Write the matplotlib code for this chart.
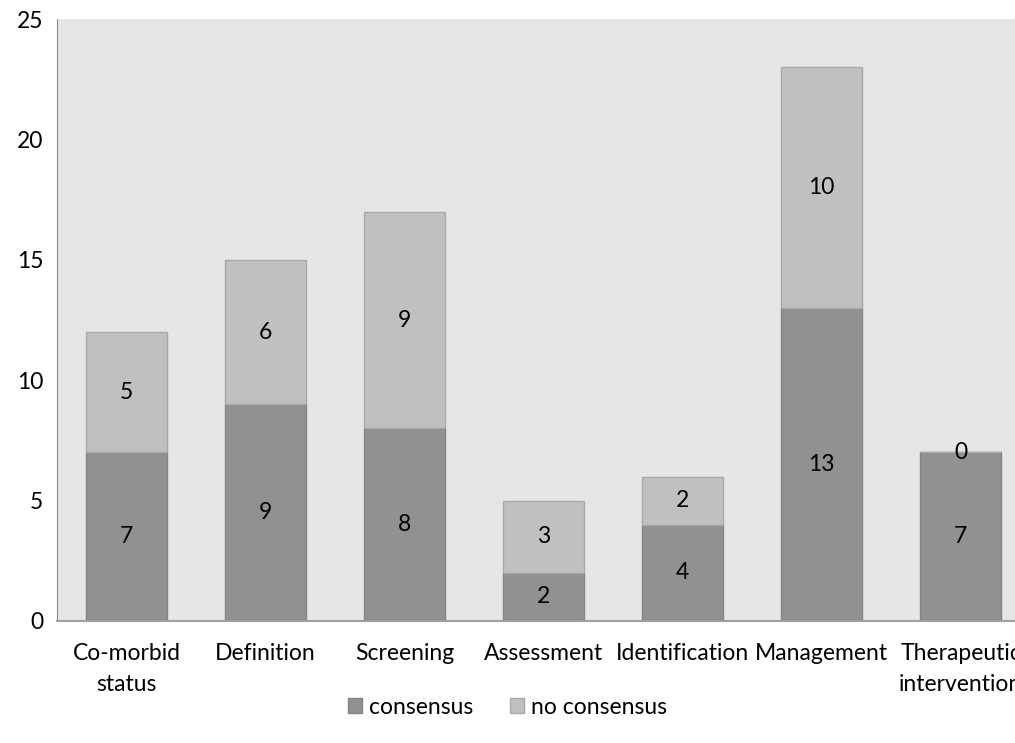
import numpy as np
import matplotlib.pyplot as plt

categories = ['Co-morbid\nstatus', 'Definition', 'Screening', 'Assessment',
              'Identification', 'Management', 'Therapeutic\nintervention']
consensus = [7, 9, 8, 2, 4, 13, 7]
no_consensus = [5, 6, 9, 3, 2, 10, 0]

plt.rcParams['font.family'] = ['Lato', 'DejaVu Sans']
fs = 16.5

fig = plt.figure(figsize=(10.15, 7.43), dpi=100)
ax = fig.add_axes([0.0562, 0.1642, 0.9586, 0.8102])
ax.set_facecolor('#e6e6e6')

x = np.arange(len(categories))
w = 0.58
ax.bar(x, consensus, w, color='#919191', edgecolor='#848484', linewidth=1, label='consensus')
ax.bar(x, no_consensus, w, bottom=consensus, color='#c0c0c0', edgecolor='#a8a8a8',
       linewidth=1, label='no consensus')

for i in range(len(x)):
    ax.text(x[i], consensus[i] / 2, str(consensus[i]), ha='center', va='center', fontsize=fs)
    ax.text(x[i], consensus[i] + no_consensus[i] / 2, str(no_consensus[i]),
            ha='center', va='center', fontsize=fs)

ax.set_xlim(-0.5, len(x) - 0.5)
ax.set_ylim(0, 25)
ax.set_yticks([0, 5, 10, 15, 20, 25])
ax.set_xticks(x)
ax.set_xticklabels(categories, fontsize=fs, linespacing=1.55)
ax.tick_params(axis='y', length=0, labelsize=fs, pad=10)
ax.tick_params(axis='x', length=0, pad=16)
for s in ['top', 'right']:
    ax.spines[s].set_visible(False)
ax.spines['left'].set_color('#8c8c8c')
ax.spines['bottom'].set_color('#a0a0a0')
ax.spines['bottom'].set_linewidth(1.5)

fig.legend(loc='center', bbox_to_anchor=(0.5, 0.048), ncol=2, frameon=False,
           fontsize=fs, handlelength=0.6, handleheight=0.6, handletextpad=0.3,
           columnspacing=1.6)

fig.savefig('out.png', dpi=100)
